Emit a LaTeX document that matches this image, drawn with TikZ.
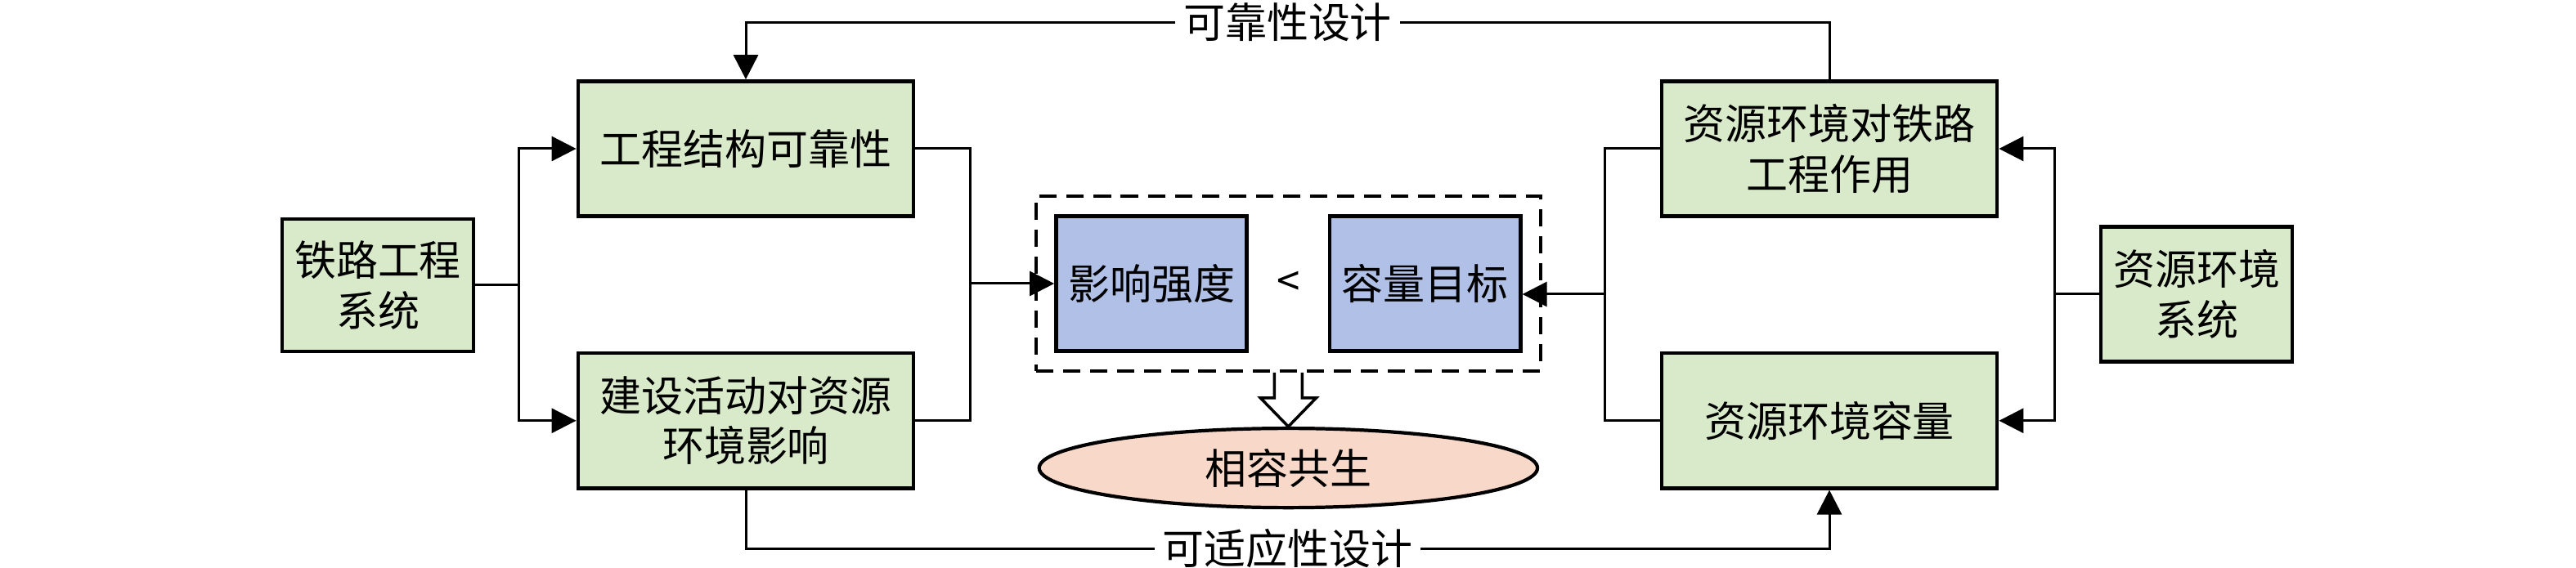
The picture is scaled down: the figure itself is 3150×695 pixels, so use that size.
\documentclass[tikz,border=0pt]{standalone}
\usepackage{fontspec}
\setmainfont{Noto Sans CJK SC}
\usepackage{tikz}
\usetikzlibrary{arrows.meta}
\usetikzlibrary{calc}
\usetikzlibrary{fit}
\usetikzlibrary{shapes.geometric}
\usetikzlibrary{positioning}

\definecolor{boxgreen}{RGB}{217,234,203}
\definecolor{boxblue}{RGB}{176,192,230}
\definecolor{goalpink}{RGB}{247,216,201}

\begin{document}
\begin{tikzpicture}[x=0.01cm, y=-0.01cm,
    >={Triangle[length=0.3cm,width=0.3cm]},
    every node/.append style={font=\fontsize{14.5pt}{17.5pt}\selectfont},
    box/.style={draw, line width=1.3pt, fill=boxgreen, align=center, inner sep=0pt,
                minimum width=4.1cm, minimum height=1.65cm},
    sysbox/.append style={box, minimum width=2.34cm},
    cmpitem/.style={draw, line width=1.3pt, fill=boxblue, inner sep=0pt,
                minimum width=2.33cm, minimum height=1.65cm},
    cmpbox/.style={draw, line width=1.2pt, dash pattern=on 6pt off 3.4pt, inner sep=0.22cm},
    goal/.style={draw, ellipse, line width=1.2pt, fill=goalpink, inner sep=0pt,
                minimum width=6.09cm, minimum height=0.97cm},
    link/.style={line width=0.85pt},
    lbl/.style={fill=white, inner xsep=0.1cm, inner ysep=0pt}]
    \useasboundingbox (0,0) rectangle (3150,695);

    % left side
    \node[sysbox, minimum height=1.62cm] (rail) at (462,349) {铁路工程\\系统};
    \node[box] (struct) at (912,182) {工程结构可靠性};
    \node[box, below=1.63cm of struct] (impact) {建设活动对资源\\环境影响};

    % comparison in the middle
    \node[cmpitem] (strength) at (1408,347) {影响强度};
    \node[cmpitem, right=0.97cm of strength] (target) {容量目标};
    \node (lt) at ($(strength)!0.5!(target)$) {<};
    \node[cmpbox, fit=(strength)(target)] (cmp) {};
    \node[goal, below=0.66cm of cmp] (res) {相容共生};

    % right side
    \node[box] (effect) at (2237,182) {资源环境对铁路\\工程作用};
    \node[box, below=1.63cm of effect] (envcap) {资源环境容量};
    \node[sysbox] (env) at (2686,360) {资源环境\\系统};

    \coordinate (jl) at (1186,347);
    \coordinate (jr) at (1962,360);

    \draw[link, ->] (rail.east) -- ++(53,0) |- (struct.west);
    \draw[link, ->] (rail.east) -- ++(53,0) |- (impact.west);
    \draw[link] (struct.east) -| (jl) |- (impact.east);
    \draw[link, ->] (jl) -- (strength.west);

    \draw[link, ->] (env.west) -- ++(-54,0) |- (effect.east);
    \draw[link, ->] (env.west) -- ++(-54,0) |- (envcap.east);
    \draw[link] (effect.west) -| (jr) |- (envcap.west);
    \draw[link, ->] (jr) -- (jr -| target.east);

    \draw[link, ->] (effect.north) -- ++(0,-70) -| node[lbl, pos=0.25] {可靠性设计} (struct.north);
    \draw[link, ->] (impact.south) -- ++(0,72) -| node[lbl, pos=0.25] {可适应性设计} (envcap.south);

    \draw[line width=1pt, fill=white] ($(cmp.south)+(-17,0)$) -- ++(0,31) -- ++(-17,0)
        -- (res.north) -- ($(res.north)+(34,-35)$) -- ++(-17,0) -- ($(cmp.south)+(17,0)$);
\end{tikzpicture}
\end{document}
